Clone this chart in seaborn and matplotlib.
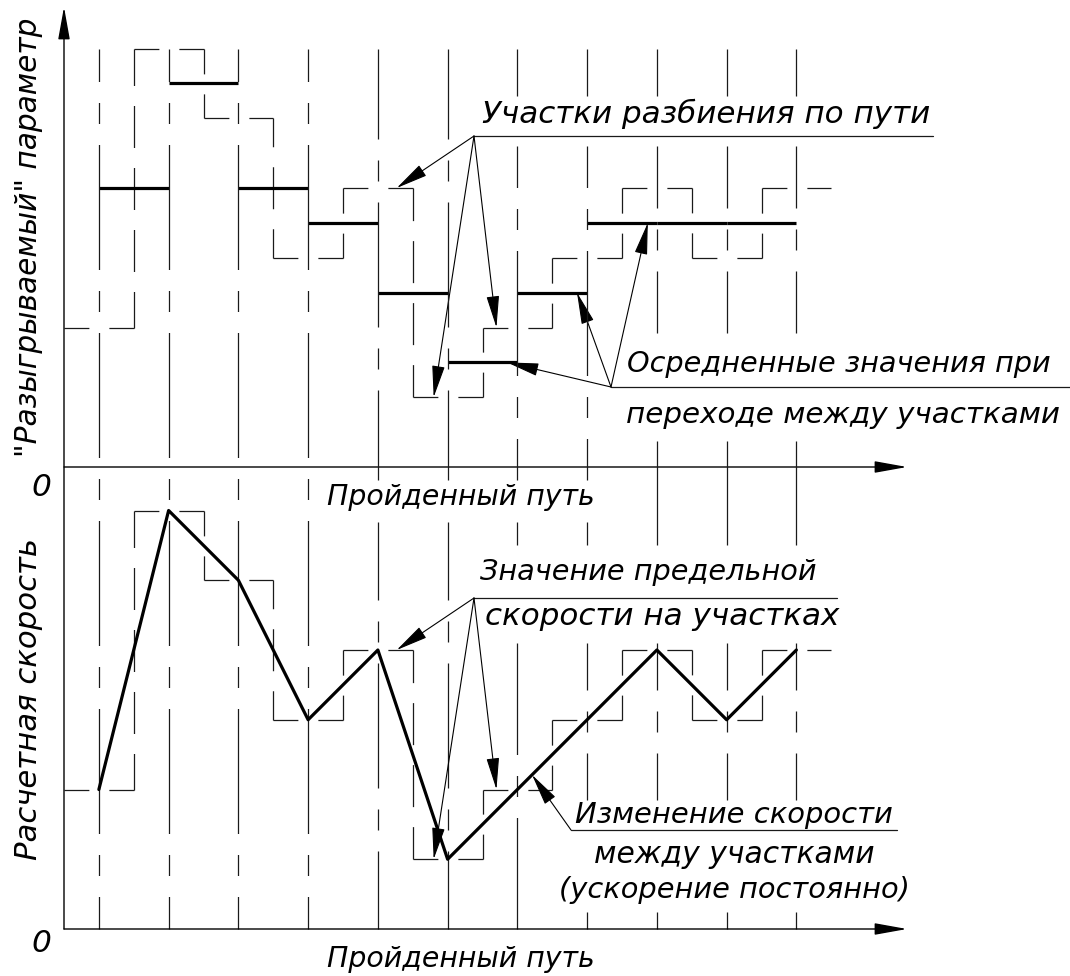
import numpy as np
import matplotlib
matplotlib.use("Agg")
import matplotlib.pyplot as plt
import seaborn as sns

# value "drawn" for each path section (dashed staircase, same in both panels)
param = [2, 6, 5, 3, 4, 1, 2, 3, 4, 3, 4]
# averaged value on the transition between two neighbouring sections (bold, top)
avg_vals = [4, 5.5, 4, 3.5, 2.5, 1.5, 2.5, 3.5, 3.5, 3.5]
# design speed at the section centres (bold broken line, bottom)
speed = [2, 6, 5, 3, 4, 1, 2, 3, 4, 3, 4]

y_top_label = '"Разыгрываемый" параметр'
y_bot_label = "Расчетная скорость"
x_label = "Пройденный путь"
zero_label = "0"
split_note = ["Участки разбиения по пути"]
avg_note = ["Осредненные значения при", "переходе между участками"]
limit_note = ["Значение предельной", "скорости на участках"]
change_note = ["Изменение скорости", "между участками", "(ускорение постоянно)"]

sns.set_style("white")
plt.rcParams["font.family"] = ["DejaVu Sans"]
plt.rcParams["lines.scale_dashes"] = False

W, H, DPI = 1070, 976, 100
U = 69.75                    # pixels per section / per unit of value
X0 = 64                      # pixel column of the vertical axis
Y0_TOP, Y0_BOT = 467, 929    # pixel rows of the two horizontal axes
PT = 72 / DPI
INK = "#1a1a1a"
CENTER = [125, 21, 21, 21]   # CAD "center" linetype, px
HIDDEN = [42, 20]            # CAD "hidden" linetype, px

fig = plt.figure(figsize=(W / DPI, H / DPI), dpi=DPI)
ax_t = fig.add_axes([0, 0, 1, 1])
ax_b = fig.add_axes([0, 0, 1, 1])


def cad_line(ax, x, y, seq, lw=0.9):
    # dash pattern centred on the segment so both ends are drawn, like in CAD
    L = np.hypot(x[1] - x[0], y[1] - y[0]) * U
    n = int(np.ceil((L - seq[0]) / sum(seq)))
    if n <= 0:
        ls = "-"
    else:
        a = (L + seq[0] - n * sum(seq)) / 2
        ls = ((seq[0] - a) * PT, [s * PT for s in seq])
    ax.plot(x, y, ls=ls, lw=lw, color=INK, dash_capstyle="butt", solid_capstyle="butt")


centers = np.arange(len(param)) + 0.5

# section centre lines, broken where the lettering sits
grid_top = (Y0_BOT - 49) / U
gaps = [(4.5, 7.5, 480, 522), (6.5, 10.5, 96, 146), (8.5, 10.5, 333, 441),
        (6.5, 10.5, 545, 643), (7.5, 10.5, 800, 912)]
for c in centers:
    cuts = sorted(((Y0_BOT - b) / U, (Y0_BOT - t) / U) for lo, hi, t, b in gaps if lo <= c <= hi)
    start = 0.0
    for lo, hi in cuts:
        cad_line(ax_b, [c, c], [start, lo], CENTER)
        start = hi
    cad_line(ax_b, [c, c], [start, grid_top], CENTER)

# dashed staircase of drawn values, both panels
for ax in (ax_t, ax_b):
    for i, v in enumerate(param):
        cad_line(ax, [i, i + 1], [v, v], HIDDEN)
        if i + 1 < len(param):
            cad_line(ax, [i + 1, i + 1], [v, param[i + 1]], HIDDEN)

# bold averaged values (top) and speed line (bottom)
ax_t.hlines(avg_vals, centers[:-1], centers[1:], colors="black", lw=2.3, capstyle="butt")
sns.lineplot(x=centers, y=speed, ax=ax_b, color="black", lw=2.3, sort=False, estimator=None)

# axes with arrows
axis_arrow = dict(arrowstyle="-|>,head_length=1.0,head_width=0.18", mutation_scale=20,
                  lw=1.0, color="black", shrinkA=0, shrinkB=0)
x_end = (907 - X0) / U
ax_b.annotate("", xy=(0, (Y0_BOT - 7) / U), xytext=(0, 0), arrowprops=axis_arrow)
ax_t.annotate("", xy=(x_end, 0), xytext=(0, 0), arrowprops=axis_arrow)
ax_b.annotate("", xy=(x_end, 0), xytext=(0, 0), arrowprops=axis_arrow)

# leader lines
lead = dict(arrowstyle="-|>,head_length=1.0,head_width=0.2", mutation_scale=20,
            lw=0.8, color="black", shrinkA=0, shrinkB=0)


def shelf(ax, y0, x_from, x_to, y_px):
    y = (y0 - y_px) / U
    ax.plot([(x_from - X0) / U, (x_to - X0) / U], [y, y], color=INK, lw=0.9)
    return (x_from - X0) / U, y


o = shelf(ax_t, Y0_TOP, 474, 933, 136)
for xt, i in zip([4.77, 5.3, 6.2], [4, 5, 6]):
    ax_t.annotate("", xy=(xt, param[i]), xytext=o, arrowprops=lead)
o = shelf(ax_t, Y0_TOP, 611, 1070, 387)
for xt, i in zip([6.35, 7.355, 8.37], [5, 6, 7]):
    ax_t.annotate("", xy=(xt, avg_vals[i]), xytext=o, arrowprops=lead)
o = shelf(ax_b, Y0_BOT, 474, 837, 598)
for xt, i in zip([4.77, 5.3, 6.2], [4, 5, 6]):
    ax_b.annotate("", xy=(xt, param[i]), xytext=o, arrowprops=lead)
o = shelf(ax_b, Y0_BOT, 571, 897, 830)
ax_b.annotate("", xy=(6.71, np.interp(6.71, centers, speed)), xytext=o, arrowprops=lead)

# lettering: pixel anchor of the original drawing plus the length it spans there
renderer = fig.canvas.get_renderer()
txt = dict(fontsize=22.5, style="italic", color="black", va="baseline")


def put(s, x, y, span=None, **kw):
    t = fig.text(x / W, 1 - y / H, s, **{**txt, **kw})
    if span:
        bb = t.get_window_extent(renderer)
        t.set_fontsize(txt["fontsize"] * span / max(bb.width, bb.height))


put(split_note[0], 482, 123, 448)
put(avg_note[0], 627, 372, 423)
put(avg_note[1], 626, 423, 434)
put(limit_note[0], 480, 580, 337)
put(limit_note[1], 485, 625, 355)
for s, y, span in zip(change_note, [823, 863, 898], [317, 280, 351]):
    put(s, 734, y, span, ha="center")
put(x_label, 327, 505, 268)
put(x_label, 327, 967, 268)
put(zero_label, 41, 487, ha="center", va="center")
put(zero_label, 41, 943, ha="center", va="center")
put(y_top_label, 37, 237, 439, ha="center", rotation=90, rotation_mode="anchor")
put(y_bot_label, 37, 699, 322, ha="center", rotation=90, rotation_mode="anchor")

for ax, y0 in ((ax_t, Y0_TOP), (ax_b, Y0_BOT)):
    ax.set_xlim(-X0 / U, (W - X0) / U)
    ax.set_ylim(-(H - y0) / U, y0 / U)
    ax.axis("off")
    ax.patch.set_alpha(0)

fig.savefig("out.png", dpi=DPI)
